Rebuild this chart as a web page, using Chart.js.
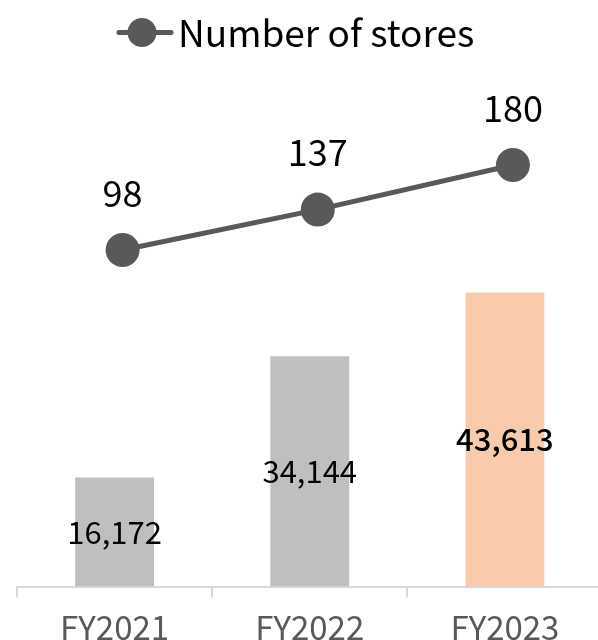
<!DOCTYPE html>
<html>
<head>
<meta charset="utf-8">
<script src="https://cdn.jsdelivr.net/npm/chart.js@4"></script>
<style>
  html, body { margin: 0; padding: 0; background: #fff; overflow: hidden; }
  #wrap { position: relative; width: 620px; height: 640px; }
</style>
</head>
<body>
<div id="wrap"><canvas id="storeChart"></canvas></div>
<script>
// fiscal years, sales bars and store counts
const years = ["FY2021", "FY2022", "FY2023"];
const sales = [16172, 34144, 43613];
const stores = [98, 137, 180];
const barColors = ["#bfbfbf", "#bfbfbf", "#f8cbad"];
const storesLabel = "Number of stores";

const FONT = "'Noto Sans CJK JP', 'Noto Sans', sans-serif";
const LINE_COLOR = "#595959";

// value labels: centred in the bars, above the line points
const valueLabels = {
    id: "valueLabels",
    afterDatasetsDraw(chart) {
        const ctx = chart.ctx;
        ctx.save();
        ctx.textAlign = "center";
        ctx.textBaseline = "middle";
        ctx.fillStyle = "#000";

        chart.getDatasetMeta(0).data.forEach((bar, i) => {
            ctx.font = (i === 2 ? "500 " : "") + "31px " + FONT;
            ctx.fillText(sales[i].toLocaleString("en-US"), bar.x, (bar.y + bar.base) / 2);
        });

        ctx.font = "36px " + FONT;
        chart.getDatasetMeta(1).data.forEach((pt, i) => {
            ctx.fillText(String(stores[i]), pt.x, pt.y - 57);
        });
        ctx.restore();
    }
};

// legend with line + dot marker
const lineLegend = {
    id: "lineLegend",
    afterDraw(chart) {
        const ctx = chart.ctx;
        const y = 32.5;
        ctx.save();
        ctx.strokeStyle = LINE_COLOR;
        ctx.lineWidth = 5;
        ctx.lineCap = "round";
        ctx.beginPath();
        ctx.moveTo(119, y);
        ctx.lineTo(171, y);
        ctx.stroke();
        ctx.fillStyle = LINE_COLOR;
        ctx.beginPath();
        ctx.arc(142, y, 14.5, 0, Math.PI * 2);
        ctx.fill();
        ctx.fillStyle = "#000";
        ctx.font = "37px " + FONT;
        ctx.textAlign = "left";
        ctx.textBaseline = "middle";
        ctx.fillText(chart.data.datasets[1].label, 178, y);
        ctx.restore();
    }
};

new Chart(document.getElementById("storeChart"), {
    type: "bar",
    data: {
        labels: years,
        datasets: [
            {
                type: "bar",
                label: "Sales",
                data: sales,
                backgroundColor: barColors,
                grouped: false,
                categoryPercentage: 1,
                barPercentage: 0.404,
                xAxisID: "x",
                yAxisID: "y",
                order: 2
            },
            {
                type: "line",
                label: storesLabel,
                data: stores.map((v, i) => ({ x: i, y: v })),
                borderColor: LINE_COLOR,
                backgroundColor: LINE_COLOR,
                borderWidth: 5,
                pointRadius: 17,
                pointHoverRadius: 17,
                pointBackgroundColor: LINE_COLOR,
                pointBorderWidth: 0,
                xAxisID: "xl",
                yAxisID: "y1",
                order: 1
            }
        ]
    },
    options: {
        responsive: true,
        maintainAspectRatio: false,
        animation: false,
        events: [],
        layout: { padding: { top: 70, left: 16, right: 17.5, bottom: 0 } },
        plugins: {
            legend: { display: false },
            tooltip: { enabled: false }
        },
        scales: {
            x: {
                offset: true,
                grid: {
                    display: true,
                    offset: true,
                    drawOnChartArea: false,
                    drawTicks: true,
                    tickLength: 11,
                    color: "#d9d9d9",
                    lineWidth: 2
                },
                border: { display: true, color: "#d9d9d9", width: 2 },
                ticks: {
                    color: "#595959",
                    font: { family: FONT, size: 33 },
                    padding: 10,
                    maxRotation: 0
                },
                afterFit(scale) { scale.height = 53.5; }
            },
            // line points sit a few pixels right of the bar centres
            xl: {
                type: "linear",
                display: false,
                offset: false,
                bounds: "data",
                min: -0.541,
                max: 2.459
            },
            y: {
                display: false,
                min: 0,
                max: 76600
            },
            y1: {
                display: false,
                min: -226.6,
                max: 271.7
            }
        }
    },
    plugins: [valueLabels, lineLegend]
});
</script>
</body>
</html>
